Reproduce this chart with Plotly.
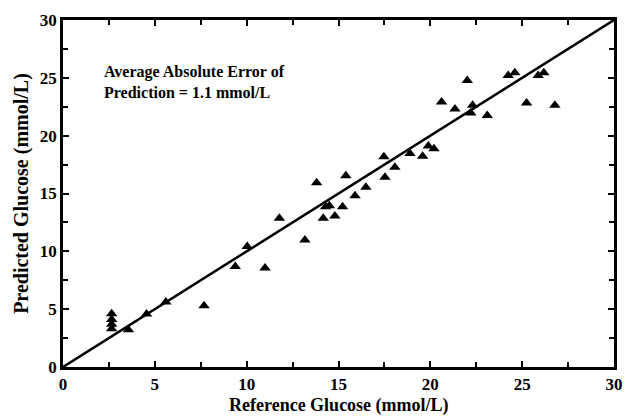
import plotly.graph_objects as go

ref_glucose = [2.65, 2.65, 2.65, 2.65, 3.56, 4.55, 5.6, 7.68, 9.38, 10.03, 11.0, 11.78, 13.17,
               13.81, 14.17, 14.3, 14.5, 14.8, 15.22, 15.4, 15.9, 16.49, 17.47, 17.53, 18.07,
               18.89, 19.58, 19.89, 20.2, 20.61, 21.34, 22.01, 22.3, 22.2, 23.1, 24.24, 24.6,
               25.24, 25.87, 26.18, 26.78]
pred_glucose = [4.6, 4.1, 3.7, 3.3, 3.23, 4.58, 5.62, 5.3, 8.69, 10.41, 8.55, 12.86, 10.99,
                15.93, 12.86, 13.85, 13.95, 13.06, 13.86, 16.54, 14.81, 15.53, 18.17, 16.4, 17.26,
                18.46, 18.23, 19.1, 18.86, 22.92, 22.31, 24.78, 22.63, 21.97, 21.74, 25.2, 25.45,
                22.83, 25.2, 25.45, 22.63]
line_x = [0, 30]
line_y = [0, 30]
note_text = "Average Absolute Error of<br>Prediction = 1.1 mmol/L"
x_title = "Reference Glucose (mmol/L)"
y_title = "Predicted Glucose (mmol/L)"

font_family = "Liberation Serif"

fig = go.Figure()
fig.add_trace(go.Scatter(x=line_x, y=line_y, mode="lines",
                         line=dict(color="black", width=2.5), showlegend=False))
fig.add_trace(go.Scatter(x=ref_glucose, y=pred_glucose, mode="markers",
                         marker=dict(symbol="triangle-up", size=10, color="black"),
                         showlegend=False))

axis_common = dict(
    range=[0, 30], dtick=5, tick0=0, automargin=False,
    showline=True, linecolor="black", linewidth=2.5, mirror="ticks",
    ticks="inside", ticklen=6, tickwidth=2, tickcolor="black",
    minor=dict(dtick=2.5, ticks="inside", ticklen=5, tickwidth=2, tickcolor="black"),
    showgrid=False, zeroline=False,
    tickfont=dict(family=font_family, size=17, color="black", weight="bold"),
)

fig.update_xaxes(**axis_common)
fig.update_yaxes(**axis_common,
                 title=dict(text="<b>" + y_title + "</b>",
                            font=dict(family=font_family, size=20, color="black"),
                            standoff=6))

# x-axis title placed at the very bottom, as in the reference
fig.add_annotation(x=0.5, y=-0.147, xref="paper", yref="paper",
                   xanchor="center", yanchor="bottom",
                   text="<b>" + x_title + "</b>", showarrow=False,
                   font=dict(family=font_family, size=18, color="black"))

fig.add_annotation(x=2.1, y=24.6, xref="x", yref="y", xanchor="left", yanchor="middle",
                   text="<b>" + note_text + "</b>", showarrow=False, align="left",
                   font=dict(family=font_family, size=16, color="black"))

fig.update_layout(
    width=625, height=418,
    margin=dict(l=63, r=11, t=20, b=51),
    plot_bgcolor="white", paper_bgcolor="white",
)

fig.write_html("out.html")
